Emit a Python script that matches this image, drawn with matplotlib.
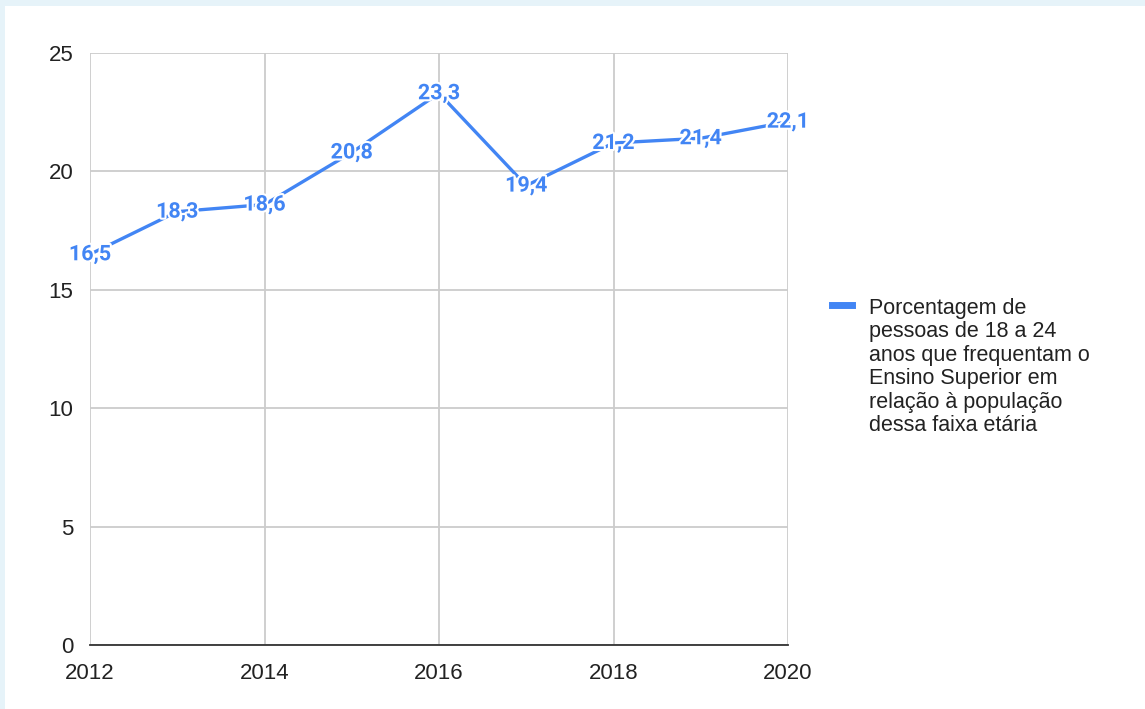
import matplotlib.pyplot as plt
import matplotlib.patheffects as pe
from matplotlib.patches import Rectangle
from matplotlib.lines import Line2D

years = [2012, 2013, 2014, 2015, 2016, 2017, 2018, 2019, 2020]
values = [16.5, 18.3, 18.6, 20.8, 23.3, 19.4, 21.2, 21.4, 22.1]
x_ticks = [2012, 2014, 2016, 2018, 2020]
y_ticks = [0, 5, 10, 15, 20, 25]
series_label = ("Porcentagem de\npessoas de 18 a 24\nanos que frequentam o\n"
                "Ensino Superior em\nrelação à população\ndessa faixa etária")

blue = '#4285f4'
W, H = 1145, 709

fig = plt.figure(figsize=(W / 100, H / 100), dpi=100, facecolor='#e6f3f9')
# white card on top of the page background
fig.add_artist(Rectangle((5 / W, 0), 1, 1 - 6 / H, transform=fig.transFigure,
                         facecolor='white', edgecolor='none', zorder=0))

ax = fig.add_axes([90 / W, (H - 645) / H, (788 - 90) / W, (645 - 53) / H])
ax.set_facecolor('none')
ax.set_xlim(2012, 2020)
ax.set_ylim(0, 25)
ax.set_xticks(x_ticks)
ax.set_yticks(y_ticks)
ax.grid(True, color='#cccccc', linewidth=1.3)
ax.set_axisbelow(True)
for side in ['top', 'right', 'left']:
    ax.spines[side].set_visible(False)
ax.spines['bottom'].set_color('#333333')
ax.spines['bottom'].set_linewidth(1.3)
ax.tick_params(length=0, labelsize=16, labelcolor='#222222')
ax.tick_params(axis='x', pad=13)
ax.tick_params(axis='y', pad=12)
for lab in ax.get_xticklabels() + ax.get_yticklabels():
    lab.set_fontfamily('Liberation Sans')

ax.plot(years, values, color=blue, linewidth=2.4, clip_on=False, zorder=3)

for x, y in zip(years, values):
    ax.text(x, y, f'{y:.1f}'.replace('.', ','), ha='center', va='center',
            color=blue, fontsize=15.5, fontweight='bold', family='Roboto',
            zorder=4, clip_on=False,
            path_effects=[pe.withStroke(linewidth=3, foreground='white')])

# legend drawn by hand so the swatch lines up with the first text line
fig.add_artist(Line2D([832 / W, 852 / W], [(H - 305) / H] * 2,
                      transform=fig.transFigure, color=blue, linewidth=5))
fig.text(869 / W, (H - 298) / H, series_label, ha='left', va='top',
         fontsize=15.5, family='Liberation Sans', color='#222222', linespacing=1.155)

fig.savefig('out.png', dpi=100, facecolor=fig.get_facecolor())
